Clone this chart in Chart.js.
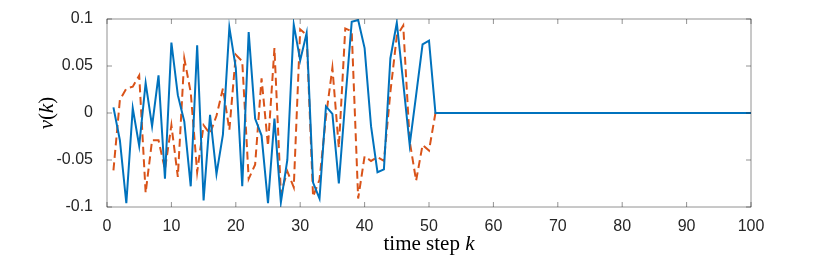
<!DOCTYPE html>
<html>
<head>
<meta charset="utf-8">
<script src="https://cdn.jsdelivr.net/npm/chart.js@4.4.1/dist/chart.umd.min.js"></script>
<style>
  html, body { margin: 0; padding: 0; background: #fff; }
</style>
</head>
<body>
<canvas id="chart" width="830" height="258"></canvas>
<script>
// time steps k = 1..100
const steps = Array.from({ length: 100 }, (_, i) => i + 1);

// solid blue series
const vSolid = [
  0.006, -0.029, -0.096, 0.005, -0.035, 0.032, -0.014, 0.040, -0.070, 0.075,
  0.019, -0.009, -0.078, 0.072, -0.093, -0.002, -0.065, -0.023, 0.091, 0.048,
  -0.078, 0.086, -0.006, -0.024, -0.096, -0.006, -0.095, -0.050, 0.094, 0.056,
  0.085, -0.074, -0.091, 0.007, -0.001, -0.075, 0.013, 0.097, 0.099, 0.069,
  -0.014, -0.063, -0.060, 0.058, 0.096, 0.032, -0.034, 0.019, 0.073, 0.077,
  0, 0, 0, 0, 0, 0, 0, 0, 0, 0,
  0, 0, 0, 0, 0, 0, 0, 0, 0, 0,
  0, 0, 0, 0, 0, 0, 0, 0, 0, 0,
  0, 0, 0, 0, 0, 0, 0, 0, 0, 0,
  0, 0, 0, 0, 0, 0, 0, 0, 0, 0
];

// dashed orange series
const vDashed = [
  -0.061, 0.014, 0.026, 0.028, 0.040, -0.085, -0.029, -0.029, -0.060, -0.013,
  -0.068, 0.058, 0.022, -0.063, -0.013, -0.022, -0.003, 0.026, -0.018, 0.062,
  0.055, -0.070, -0.055, 0.037, -0.035, 0.069, -0.086, -0.062, -0.079, 0.089,
  0.083, -0.089, -0.071, -0.004, 0.048, -0.037, 0.090, 0.087, -0.091, -0.046,
  -0.051, -0.047, -0.051, 0.022, 0.082, 0.093, -0.030, -0.072, -0.034, -0.040,
  0, 0, 0, 0, 0, 0, 0, 0, 0, 0,
  0, 0, 0, 0, 0, 0, 0, 0, 0, 0,
  0, 0, 0, 0, 0, 0, 0, 0, 0, 0,
  0, 0, 0, 0, 0, 0, 0, 0, 0, 0,
  0, 0, 0, 0, 0, 0, 0, 0, 0, 0
];

const xTicks = [0, 10, 20, 30, 40, 50, 60, 70, 80, 90, 100];
const yTickLabels = { "0.1": "0.1", "0.05": "0.05", "0": "0", "-0.05": "-0.05", "-0.1": "-0.1" };

const axisColor = "#262626";
const tickFont = { family: "'Liberation Sans', Arial, sans-serif", size: 16 };
const serif = "'Liberation Serif', 'Times New Roman', serif";

// box around the axes with inward ticks (matlab style)
const axesBox = {
  id: "axesBox",
  afterDraw(chart) {
    const { ctx, chartArea: a, scales } = chart;
    ctx.save();
    ctx.strokeStyle = axisColor;
    ctx.lineWidth = 0.5;
    ctx.strokeRect(a.left, a.top, a.right - a.left, a.bottom - a.top);
    const len = 5;
    ctx.beginPath();
    scales.x.ticks.forEach(t => {
      const px = scales.x.getPixelForValue(t.value);
      ctx.moveTo(px, a.bottom); ctx.lineTo(px, a.bottom - len);
      ctx.moveTo(px, a.top); ctx.lineTo(px, a.top + len);
    });
    scales.y.ticks.forEach(t => {
      const py = scales.y.getPixelForValue(t.value);
      ctx.moveTo(a.left, py); ctx.lineTo(a.left + len, py);
      ctx.moveTo(a.right, py); ctx.lineTo(a.right - len, py);
    });
    ctx.stroke();

    // axis titles, latex-like: italic symbols, roman text
    ctx.fillStyle = "#000";
    ctx.textBaseline = "alphabetic";
    const size = 21;
    const roman = size + "px " + serif;
    const ital = "italic " + size + "px " + serif;

    // x title: "time step k"
    ctx.font = roman;
    const w1 = ctx.measureText("time step ").width;
    ctx.font = ital;
    const w2 = ctx.measureText("k").width;
    const x0 = (a.left + a.right) / 2 - (w1 + w2) / 2;
    const yb = 250;
    ctx.font = roman;
    ctx.textAlign = "left";
    ctx.fillText("time step ", x0, yb);
    ctx.font = ital;
    ctx.fillText("k", x0 + w1, yb);

    // y title: "v(k)"
    const parts = [["v", ital], ["(", roman], ["k", ital], [")", roman]];
    let total = 0;
    parts.forEach(p => { ctx.font = p[1]; total += ctx.measureText(p[0]).width; });
    ctx.translate(53, (a.top + a.bottom) / 2);
    ctx.rotate(-Math.PI / 2);
    let cx = -total / 2;
    parts.forEach(p => {
      ctx.font = p[1];
      ctx.fillText(p[0], cx, 0);
      cx += ctx.measureText(p[0]).width;
    });
    ctx.restore();
  }
};

const ctx = document.getElementById("chart").getContext("2d");
new Chart(ctx, {
  type: "line",
  data: {
    datasets: [
      {
        label: "solid",
        data: steps.map((k, i) => ({ x: k, y: vSolid[i] })),
        borderColor: "#0072BD",
        borderWidth: 2,
        pointRadius: 0,
        tension: 0,
        fill: false
      },
      {
        label: "dashed",
        data: steps.map((k, i) => ({ x: k, y: vDashed[i] })),
        borderColor: "#D95319",
        borderWidth: 2,
        borderDash: [8, 4.5],
        pointRadius: 0,
        tension: 0,
        fill: false
      }
    ]
  },
  options: {
    responsive: false,
    animation: false,
    events: [],
    layout: { padding: { left: 0, right: 79, top: 19, bottom: 0 } },
    plugins: {
      legend: { display: false },
      tooltip: { enabled: false }
    },
    scales: {
      x: {
        type: "linear",
        min: 0,
        max: 100,
        afterBuildTicks: s => { s.ticks = xTicks.map(v => ({ value: v })); },
        ticks: { color: axisColor, font: tickFont, padding: 2, maxRotation: 0 },
        grid: { display: false },
        border: { display: false },
        afterFit: s => { s.height = 51; }
      },
      y: {
        type: "linear",
        min: -0.1,
        max: 0.1,
        ticks: {
          stepSize: 0.05,
          color: axisColor,
          font: tickFont,
          padding: 6,
          callback: v => yTickLabels[String(Math.round(v * 100) / 100)]
        },
        grid: { display: false },
        border: { display: false },
        afterFit: s => { s.width = 107; }
      }
    }
  },
  plugins: [axesBox]
});
</script>
</body>
</html>
